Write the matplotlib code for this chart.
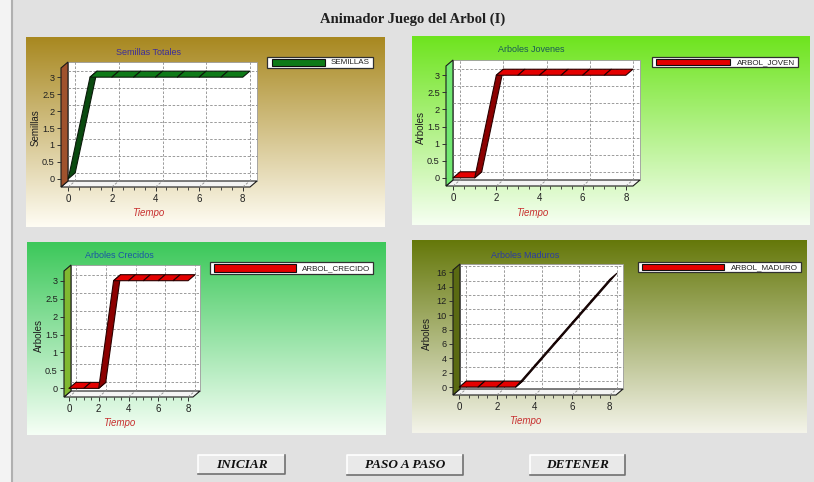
import matplotlib.pyplot as plt
import matplotlib.colors as mcolors
import numpy as np
from matplotlib.patches import Rectangle, Polygon
from matplotlib.lines import Line2D

W, H = 814, 482
DX, DY = 7, 6  # depth of the 3D walls, in pixels

# series
tiempo = [0, 1, 2, 3, 4, 5, 6, 7, 8]
semillas = [0, 3, 3, 3, 3, 3, 3, 3, 3]
arbol_joven = [0, 0, 3, 3, 3, 3, 3, 3, 3]
arbol_crecido = [0, 0, 0, 3, 3, 3, 3, 3, 3]
arbol_maduro = [0, 0, 0, 0, 3, 6, 9, 12, 15]

x_ticks = [0, 2, 4, 6, 8]
y_ticks_3 = [0, 0.5, 1, 1.5, 2, 2.5, 3]
y_labels_3 = ["0", "0.5", "1", "1.5", "2", "2.5", "3"]
y_ticks_16 = [0, 2, 4, 6, 8, 10, 12, 14, 16]
y_labels_16 = ["0", "2", "4", "6", "8", "10", "12", "14", "16"]

botones = ["INICIAR", "PASO A PASO", "DETENER"]

plt.rcParams["font.family"] = ["Liberation Sans", "DejaVu Sans"]


def fx(x):
    return x / W


def fy(y):
    return 1 - y / H


def fr(x0, y0, x1, y1):
    return [fx(x0), fy(y1), (x1 - x0) / W, (y1 - y0) / H]


def gradient(fig, rect, top, bottom):
    ax = fig.add_axes(fr(*rect))
    c0 = np.array(mcolors.to_rgb(top))
    c1 = np.array(mcolors.to_rgb(bottom))
    f = np.linspace(0, 1, 256)[:, None]
    img = c0 * (1 - f) + c1 * f
    ax.imshow(img[:, None, :], aspect="auto", extent=[0, 1, 0, 1],
              interpolation="bilinear")
    ax.axis("off")


def chart(fig, cfg, values, yticks, ylabels):
    gradient(fig, cfg["panel"], cfg["top"], cfg["bottom"])

    box = cfg["box"]
    xlim, ylim = cfg["xlim"], cfg["ylim"]
    ax = fig.add_axes(fr(*box))
    ax.set_xlim(xlim)
    ax.set_ylim(ylim)
    ax.patch.set_visible(False)
    for s in ax.spines.values():
        s.set_visible(False)

    bw, bh = box[2] - box[0], box[3] - box[1]
    adx, ady = DX / bw, DY / bh
    ddx = adx * (xlim[1] - xlim[0])
    ddy = ady * (ylim[1] - ylim[0])
    T = ax.transAxes

    # back wall, floor and left wall
    ax.add_patch(Rectangle((adx, ady), 1, 1, transform=T, fc="white",
                           ec="#9a9a9a", lw=0.6, clip_on=False, zorder=0))
    ax.add_patch(Polygon([(0, 0), (1, 0), (1 + adx, ady), (adx, ady)],
                         transform=T, fc="#f4f4f4", ec="#1a1a1a", lw=0.8,
                         clip_on=False, zorder=1))
    ax.add_patch(Polygon([(0, 0), (adx, ady), (adx, 1 + ady), (0, 1)],
                         transform=T, fc=cfg["wall"], ec="#1a1a1a", lw=0.8,
                         clip_on=False, zorder=1))

    grid = dict(color="#8c8c8c", lw=0.6, ls=(0, (3, 2)), clip_on=False, zorder=2)
    for xt in x_ticks:
        ax.plot([xt + ddx, xt + ddx], [ylim[0] + ddy, ylim[1] + ddy], **grid)
        ax.plot([xt, xt + ddx], [ylim[0], ylim[0] + ddy], **grid)
    for yt in yticks:
        ax.plot([xlim[0] + ddx, xlim[1] + ddx], [yt + ddy, yt + ddy], **grid)

    # ribbon
    for i in range(len(tiempo) - 1):
        x0, x1 = tiempo[i], tiempo[i + 1]
        y0, y1 = values[i], values[i + 1]
        pts = [(x0, y0), (x1, y1), (x1 + ddx, y1 + ddy), (x0 + ddx, y0 + ddy)]
        fc = cfg["dark"] if y1 != y0 else cfg["face"]
        ax.add_patch(Polygon(pts, fc=fc, ec=cfg["edge"], lw=0.8,
                             joinstyle="round", clip_on=False, zorder=3))

    ax.set_xticks(x_ticks)
    ax.set_xticks(np.arange(0, 8.5, 0.5), minor=True)
    ax.set_yticks(yticks)
    ax.set_yticklabels(ylabels)
    ax.tick_params(axis="both", which="major", length=3, width=0.7,
                   color="#303030", labelsize=7, labelcolor="#202020", pad=2)
    ax.tick_params(axis="y", which="major", labelsize=6.6, pad=1.5)
    ax.tick_params(axis="x", which="minor", length=2, width=0.6, color="#303030")

    tx, ty = cfg["title_pos"]
    fig.text(fx(tx), fy(ty), cfg["title"], color=cfg["title_color"],
             fontsize=6.5, ha="center", va="center")
    lx, ly = cfg["ylabel_pos"]
    fig.text(fx(lx), fy(ly), cfg["ylabel"], rotation=90, fontsize=7,
             color="#202020", ha="center", va="center")
    xx, xy = cfg["xlabel_pos"]
    fig.text(fx(xx), fy(xy), "Tiempo", style="italic", color="#c83030",
             fontsize=7, ha="center", va="center")

    # legend box
    lb = cfg["legend"]
    fig.add_artist(Rectangle((fx(lb[0]), fy(lb[3])), (lb[2] - lb[0]) / W,
                             (lb[3] - lb[1]) / H, transform=fig.transFigure,
                             fc="white", ec="#303030", lw=0.9))
    sw = cfg["swatch"]
    fig.add_artist(Rectangle((fx(sw[0]), fy(lb[3] - 2.2)), (sw[1] - sw[0]) / W,
                             (lb[3] - lb[1] - 4.4) / H, transform=fig.transFigure,
                             fc=cfg["face"], ec="#101010", lw=0.8))
    fig.text(fx(lb[2] - 3), fy((lb[1] + lb[3]) / 2 + 0.3), cfg["name"],
             fontsize=5.8, color="#202020", ha="right", va="center")


charts = [
    dict(name="SEMILLAS", title="Semillas Totales", title_color="#3b2c9c",
         ylabel="Semillas",
         panel=(26, 37, 385, 227), top="#a88820", bottom="#fffdf4",
         box=(61, 68, 250, 187), xlim=(-0.33, 8.33), ylim=(-0.24, 3.27),
         wall="#a0522d", face="#0e7a18", dark="#0a4a10", edge="#0a1a0a",
         title_pos=(148, 52), ylabel_pos=(36, 128), xlabel_pos=(148, 213),
         legend=(267, 57, 373, 68), swatch=(272, 325)),
    dict(name="ARBOL_JOVEN", title="Arboles Jovenes", title_color="#1a5a55",
         ylabel="Arboles",
         panel=(412, 36, 810, 225), top="#6ee41e", bottom="#f6fff2",
         box=(446, 66, 633, 186), xlim=(-0.33, 8.33), ylim=(-0.24, 3.27),
         wall="#72e872", face="#e40000", dark="#8c0000", edge="#2a0000",
         title_pos=(531, 50), ylabel_pos=(421, 128), xlabel_pos=(532, 213),
         legend=(652, 57, 798, 67), swatch=(656, 730)),
    dict(name="ARBOL_CRECIDO", title="Arboles Crecidos", title_color="#1a55a5",
         ylabel="Arboles",
         panel=(27, 242, 386, 435), top="#3cc85a", bottom="#f6fff6",
         box=(64, 271, 193, 397), xlim=(-0.33, 8.33), ylim=(-0.24, 3.27),
         wall="#80b830", face="#e40000", dark="#8c0000", edge="#2a0000",
         title_pos=(119, 256), ylabel_pos=(39, 335), xlabel_pos=(119, 423),
         legend=(210, 262, 373, 274), swatch=(214, 296)),
    dict(name="ARBOL_MADURO", title="Arboles Maduros", title_color="#2a3aa5",
         ylabel="Arboles",
         panel=(412, 240, 807, 433), top="#65780a", bottom="#f4f4ea",
         box=(453, 270, 616, 395), xlim=(-0.33, 8.33), ylim=(-1.1, 16.3),
         wall="#5a6a12", face="#e40000", dark="#1a1a1a", edge="#140000",
         title_pos=(525, 255), ylabel_pos=(427, 333), xlabel_pos=(525, 421),
         legend=(638, 262, 801, 272), swatch=(642, 724)),
]

fig = plt.figure(figsize=(W / 100, H / 100), dpi=100)
fig.patch.set_facecolor("#e1e1e1")

# left window edge
fig.add_artist(Rectangle((0, 0), fx(11), 1, transform=fig.transFigure,
                         fc="#f3f3f3", ec="none"))
fig.add_artist(Line2D([fx(12), fx(12)], [0, 1], color="#b0b0b0", lw=1.5))

fig.text(fx(413), fy(19), "Animador Juego del Arbol (I)", fontsize=10.5,
         fontweight="bold", family="Liberation Serif", color="#202020",
         ha="center", va="center")

chart(fig, charts[0], semillas, y_ticks_3, y_labels_3)
chart(fig, charts[1], arbol_joven, y_ticks_3, y_labels_3)
chart(fig, charts[2], arbol_crecido, y_ticks_3, y_labels_3)
chart(fig, charts[3], arbol_maduro, y_ticks_16, y_labels_16)

# buttons
button_boxes = [(198, 455, 285, 474), (347, 455, 463, 475), (530, 455, 625, 475)]
for name, (x0, y0, x1, y1) in zip(botones, button_boxes):
    fig.add_artist(Rectangle((fx(x0), fy(y1)), (x1 - x0) / W, (y1 - y0) / H,
                             transform=fig.transFigure, fc="#e9e9e9", ec="none"))
    fig.add_artist(Line2D([fx(x0), fx(x0), fx(x1)], [fy(y1), fy(y0), fy(y0)],
                          color="white", lw=1.2))
    fig.add_artist(Line2D([fx(x0), fx(x1), fx(x1)], [fy(y1), fy(y1), fy(y0)],
                          color="#707070", lw=1.2))
    fig.text(fx((x0 + x1) / 2), fy((y0 + y1) / 2), name, fontsize=9.5,
             fontweight="bold", style="italic", family="Liberation Serif",
             color="#101010", ha="center", va="center")

fig.savefig("out.png", dpi=100, facecolor=fig.get_facecolor())
